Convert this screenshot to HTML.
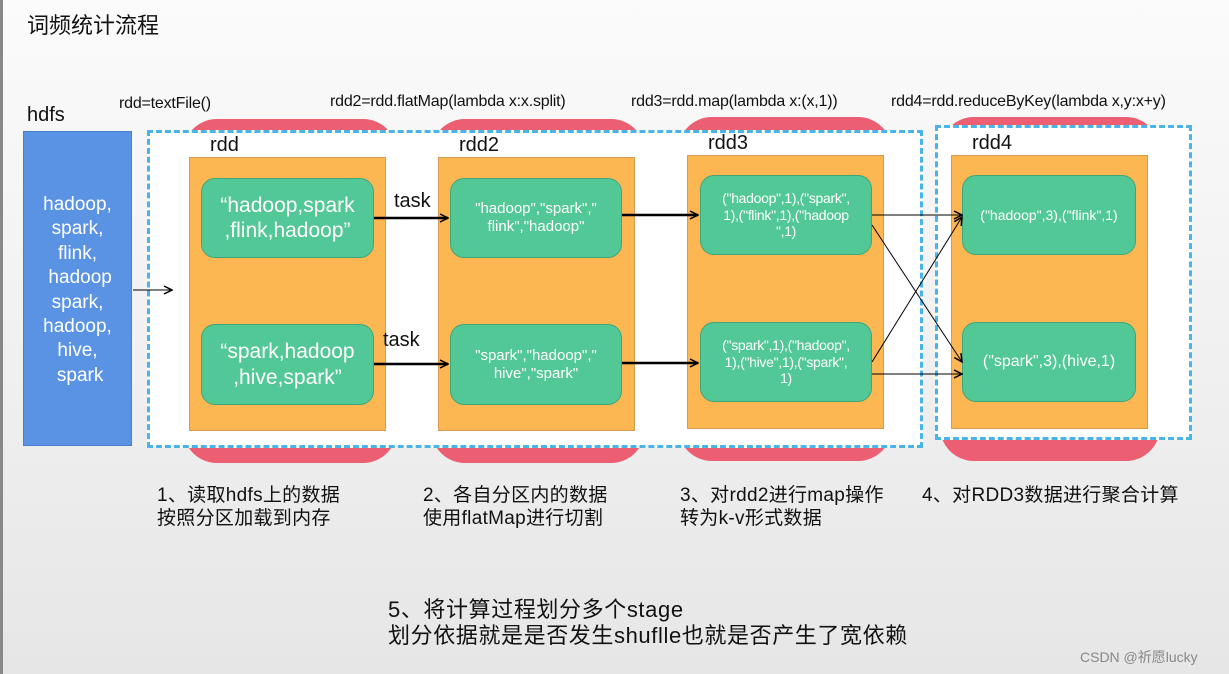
<!DOCTYPE html>
<html><head><meta charset="utf-8"><style>
body{margin:0;width:1229px;height:674px;overflow:hidden;position:relative;font-family:"Liberation Sans","Noto Sans CJK SC",sans-serif;background:linear-gradient(#fbfbfb,#f3f3f3 40%,#e6e6e6);}
.a{position:absolute;}
.pill{position:absolute;background:#ec5f72;border-radius:34px;}
.org{position:absolute;background:#fdb752;border:1px solid #d89a50;box-sizing:border-box;}
.grn{position:absolute;background:#52c896;border:1px solid #3fa57a;border-radius:14px;box-sizing:border-box;color:#fff;display:flex;align-items:center;justify-content:center;text-align:center;line-height:1.2;}
.dash{position:absolute;border:3px dashed #4ab3e8;box-sizing:border-box;}
.lab{position:absolute;font-size:20px;color:#111;}
.fn{position:absolute;font-size:16px;color:#111;letter-spacing:-0.2px;}
.cn{position:absolute;font-size:19px;color:#111;line-height:23px;letter-spacing:0.3px;}
</style></head><body>
<div class="a" style="left:0;top:0;width:3px;height:674px;background:#888"></div>
<div class="a" style="left:27px;top:8px;font-size:22px;color:#111">词频统计流程</div>

<div class="pill" style="left:183px;top:119px;width:214px;height:344px"></div>
<div class="pill" style="left:431px;top:119px;width:214px;height:344px"></div>
<div class="pill" style="left:678px;top:117px;width:214px;height:344px"></div>
<div class="pill" style="left:940px;top:117px;width:220px;height:344px"></div>

<div class="dash" style="left:147px;top:130px;width:776px;height:318px;background:#fff"></div>
<div class="dash" style="left:935px;top:125px;width:257px;height:315px;background:#fff"></div>

<div class="lab" style="left:27px;top:104px">hdfs</div>
<div class="fn" style="left:119px;top:95px">rdd=textFile()</div>
<div class="fn" style="left:330px;top:93px">rdd2=rdd.flatMap(lambda x:x.split)</div>
<div class="fn" style="left:631px;top:93px">rdd3=rdd.map(lambda x:(x,1))</div>
<div class="fn" style="left:891px;top:93px">rdd4=rdd.reduceByKey(lambda x,y:x+y)</div>

<div class="a" style="left:23px;top:131px;width:109px;height:315px;background:#5b93e4;border:1px solid #4a7fcf;box-sizing:border-box;color:#fff;font-size:19px;line-height:24.4px;text-align:center;padding-top:61px">hadoop,<br>spark,<br>flink,<br>&nbsp;hadoop<br>spark,<br>hadoop,<br>hive,<br>&nbsp;spark</div>

<div class="lab" style="left:210px;top:134px">rdd</div>
<div class="lab" style="left:459px;top:134px">rdd2</div>
<div class="lab" style="left:708px;top:132px">rdd3</div>
<div class="lab" style="left:972px;top:132px">rdd4</div>

<div class="org" style="left:189px;top:157px;width:197px;height:274px"></div>
<div class="org" style="left:438px;top:157px;width:197px;height:274px"></div>
<div class="org" style="left:687px;top:155px;width:197px;height:274px"></div>
<div class="org" style="left:951px;top:155px;width:197px;height:274px"></div>

<div class="grn" style="left:201px;top:178px;width:173px;height:80px;font-size:21px">“hadoop,spark<br>,flink,hadoop”</div>
<div class="grn" style="left:201px;top:324px;width:173px;height:81px;font-size:21px">“spark,hadoop<br>,hive,spark”</div>
<div class="grn" style="left:450px;top:178px;width:172px;height:80px;font-size:15px">"hadoop","spark","<br>flink","hadoop"</div>
<div class="grn" style="left:450px;top:324px;width:172px;height:81px;font-size:15px">"spark","hadoop","<br>hive","spark"</div>
<div class="grn" style="left:700px;top:175px;width:172px;height:80px;font-size:14px;letter-spacing:-0.3px">("hadoop",1),("spark",<br>1),("flink",1),("hadoop<br>",1)</div>
<div class="grn" style="left:700px;top:322px;width:172px;height:80px;font-size:14px;letter-spacing:-0.3px">("spark",1),("hadoop",<br>1),("hive",1),("spark",<br>1)</div>
<div class="grn" style="left:962px;top:175px;width:174px;height:80px;font-size:14px">("hadoop",3),("flink",1)</div>
<div class="grn" style="left:962px;top:322px;width:174px;height:80px;font-size:16px">("spark",3),(hive,1)</div>

<div class="lab" style="left:394px;top:190px">task</div>
<div class="lab" style="left:383px;top:329px">task</div>

<svg class="a" style="left:0;top:0" width="1229" height="674">
<defs>
<marker id="m" markerWidth="10" markerHeight="10" refX="9" refY="5" orient="auto" markerUnits="userSpaceOnUse"><path d="M1,1 L9,5 L1,9" fill="none" stroke="#000" stroke-width="1.5"/></marker>
</defs>
<g stroke="#000" fill="none" marker-end="url(#m)">
<line x1="133" y1="290" x2="172" y2="290" stroke-width="1"/>
<line x1="374" y1="218" x2="448" y2="218" stroke-width="2.5"/>
<line x1="374" y1="364" x2="448" y2="364" stroke-width="2.5"/>
<line x1="622" y1="215" x2="698" y2="215" stroke-width="2.5"/>
<line x1="622" y1="363" x2="698" y2="363" stroke-width="2.5"/>
<line x1="872" y1="215" x2="962" y2="215" stroke-width="1"/>
<line x1="872" y1="225" x2="962" y2="362" stroke-width="1"/>
<line x1="872" y1="362" x2="962" y2="217" stroke-width="1"/>
<line x1="872" y1="374" x2="962" y2="374" stroke-width="1"/>
</g>
</svg>

<div class="cn" style="left:157px;top:484px">1、读取hdfs上的数据<br>按照分区加载到内存</div>
<div class="cn" style="left:423px;top:484px">2、各自分区内的数据<br>使用flatMap进行切割</div>
<div class="cn" style="left:680px;top:484px">3、对rdd2进行map操作<br>转为k-v形式数据</div>
<div class="cn" style="left:922px;top:484px">4、对RDD3数据进行聚合计算</div>
<div class="cn" style="left:388px;top:597px;font-size:22px;line-height:26px;letter-spacing:0.6px">5、将计算过程划分多个stage<br>划分依据就是是否发生shuflle也就是否产生了宽依赖</div>
<div class="a" style="left:1080px;top:647px;font-size:14px;color:#888">CSDN @祈愿lucky</div>
</body></html>
